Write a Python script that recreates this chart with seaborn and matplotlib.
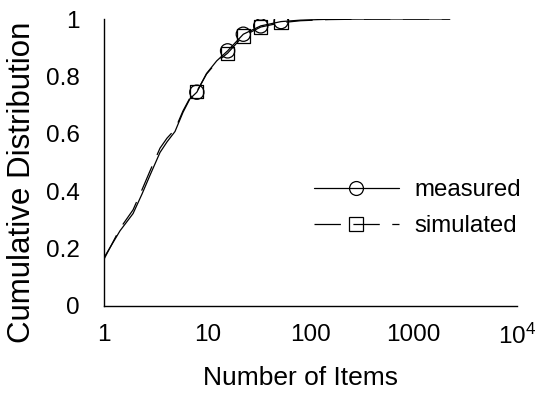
import matplotlib
matplotlib.use("Agg")
import matplotlib.pyplot as plt
from matplotlib.lines import Line2D
from matplotlib.ticker import FixedLocator, FixedFormatter, NullLocator
import seaborn as sns
import pandas as pd

# ---- data ----
meas_x = [1, 1.42, 1.9, 2.32, 2.77, 3.47, 4.06, 4.85, 5.8, 6.77, 7.9, 9.8, 12.3,
          15.7, 22.3, 32.9, 51.8, 80, 150, 400, 2250]
meas_y = [0.17, 0.262, 0.322, 0.39, 0.455, 0.535, 0.572, 0.608, 0.675, 0.722, 0.745,
          0.81, 0.854, 0.889, 0.947, 0.976, 0.991, 0.996, 0.999, 1.0, 1.0]
sim_x = [1, 1.42, 1.9, 2.32, 2.77, 3.47, 4.06, 4.85, 5.8, 6.77, 7.9, 9.8, 12.3,
         15.7, 22.3, 32.9, 51.8, 80, 150, 400, 2250]
sim_y = [0.165, 0.27, 0.335, 0.405, 0.47, 0.55, 0.585, 0.615, 0.68, 0.725, 0.748,
         0.808, 0.85, 0.881, 0.941, 0.972, 0.987, 0.994, 0.998, 1.0, 1.0]
meas_mx = [7.9, 15.7, 22.3, 32.9, 51.8]
meas_my = [0.745, 0.889, 0.947, 0.976, 0.991]
sim_mx = [7.9, 15.7, 22.3, 32.9, 51.8]
sim_my = [0.748, 0.881, 0.941, 0.972, 0.987]
x_ticks = [1, 10, 100, 1000, 10000]
x_ticklabels = ["1", "10", "100", "1000", "$10^4$"]
y_ticks = [0, 0.2, 0.4, 0.6, 0.8, 1]
y_ticklabels = ["0", "0.2", "0.4", "0.6", "0.8", "1"]

sns.set_style("white")
plt.rcParams["font.family"] = ["Liberation Sans", "DejaVu Sans"]
plt.rcParams["mathtext.fontset"] = "custom"
plt.rcParams["mathtext.rm"] = "Liberation Sans"
plt.rcParams["mathtext.it"] = "Liberation Sans"
plt.rcParams["mathtext.default"] = "regular"
plt.rcParams["lines.scale_dashes"] = False
plt.rcParams["text.color"] = "black"
plt.rcParams["axes.labelcolor"] = "black"

TICK_FS = 17.5
LEG_FS = 17.3
fig = plt.figure(figsize=(5.41, 3.93), dpi=100)
ax = fig.add_axes([0.1928, 1 - 306 / 393, 0.7623, (306 - 19) / 393])

dmeas = pd.DataFrame({"x": meas_x, "y": meas_y})
dsim = pd.DataFrame({"x": sim_x, "y": sim_y})
lw = 0.9
sns.lineplot(data=dmeas, x="x", y="y", ax=ax, color="black", lw=lw, sort=False)
sns.lineplot(data=dsim, x="x", y="y", ax=ax, color="black", lw=lw, sort=False,
             dashes=False)
ax.lines[-1].set_dashes((19, 9))
sns.scatterplot(x=meas_mx, y=meas_my, ax=ax, marker="o", s=105,
                facecolor="none", edgecolor="black", linewidth=0.9, zorder=3)
sns.scatterplot(x=sim_mx, y=sim_my, ax=ax, marker="s", s=90,
                facecolor="none", edgecolor="black", linewidth=0.9, zorder=3)

ax.set_xscale("log")
ax.set_xlim(1, 10000)
ax.set_ylim(0, 1)
ax.xaxis.set_major_locator(FixedLocator(x_ticks))
ax.xaxis.set_major_formatter(FixedFormatter(x_ticklabels))
ax.xaxis.set_minor_locator(NullLocator())
ax.yaxis.set_major_locator(FixedLocator(y_ticks))
ax.yaxis.set_major_formatter(FixedFormatter(y_ticklabels))

for s in ["top", "right"]:
    ax.spines[s].set_visible(False)
for s in ["left", "bottom"]:
    ax.spines[s].set_color("black")
    ax.spines[s].set_linewidth(1.0)
ax.tick_params(axis="both", which="major", direction="out", length=11.5,
               width=1.0, color="black", labelsize=TICK_FS, labelcolor="black")
ax.tick_params(axis="x", pad=1.5)
ax.tick_params(axis="y", pad=6)

ax.set_xlabel("Number of Items", fontsize=19)
ax.set_ylabel("Cumulative Distribution", fontsize=22.5)
ax.xaxis.set_label_coords(0.475, -0.21)
ax.yaxis.set_label_coords(-0.163, 0.43)

h1 = Line2D([], [], color="black", lw=lw, marker="o", markersize=10,
            markerfacecolor="none", markeredgecolor="black", markeredgewidth=0.9)
h2 = Line2D([], [], color="black", lw=lw, marker="s", markersize=9.5,
            markerfacecolor="none", markeredgecolor="black", markeredgewidth=0.9,
            dashes=(19, 9))
ax.legend([h1, h2], ["measured", "simulated"], loc="upper left",
          bbox_to_anchor=(0.508, 0.441), frameon=False, fontsize=LEG_FS,
          handlelength=3.55, handletextpad=0.65, labelspacing=0.58,
          borderpad=0, borderaxespad=0, numpoints=1)

fig.savefig("out.png", dpi=100)
